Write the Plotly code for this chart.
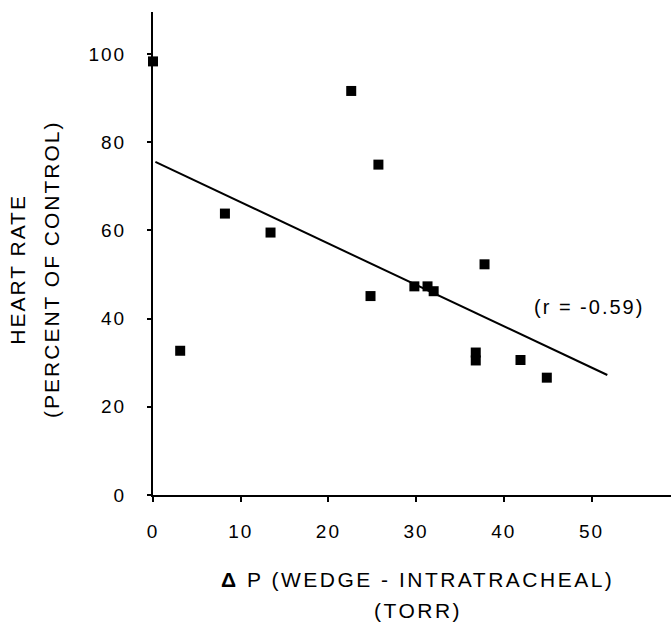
import plotly.graph_objects as go

# Pressure gradient (torr) and heart rate (% of control) per animal
delta_p = [0, 3.1, 8.2, 13.4, 22.6, 25.7, 24.8, 29.8, 31.3, 32.0, 36.8, 36.8, 37.8, 41.9, 44.9]
heart_rate = [98.3, 32.7, 63.8, 59.5, 91.6, 74.9, 45.1, 47.3, 47.3, 46.2, 32.3, 30.5, 52.3, 30.6, 26.6]

# Regression line end points
fit_x = [0.27, 51.8]
fit_y = [75.5, 27.2]

x_ticks = [0, 10, 20, 30, 40, 50]
y_ticks = [0, 20, 40, 60, 80, 100]

FONT = "Liberation Sans, Arial, Helvetica, sans-serif"


def spaced(s, px=2):
    return f'<span style="letter-spacing:{px}px">{s}</span>'


fig = go.Figure()
fig.add_trace(go.Scatter(
    x=fit_x, y=fit_y, mode="lines",
    line=dict(color="black", width=2),
    hoverinfo="skip", cliponaxis=False,
))
fig.add_trace(go.Scatter(
    x=delta_p, y=heart_rate, mode="markers",
    marker=dict(symbol="square", size=10, color="black", line=dict(width=0)),
    cliponaxis=False,
))

fig.update_layout(
    width=671, height=624,
    margin=dict(l=153, r=0, t=12, b=129),
    paper_bgcolor="white", plot_bgcolor="white",
    showlegend=False,
    font=dict(family=FONT, color="black", size=19),
    xaxis=dict(
        range=[0, 59.06], showgrid=False, zeroline=False,
        showline=True, linecolor="black", linewidth=2,
        ticks="outside", ticklen=5, tickwidth=2, tickcolor="black",
        tickvals=x_ticks, ticktext=[spaced(v) for v in x_ticks],
        ticklabelstandoff=13,
    ),
    yaxis=dict(
        range=[0, 109.5], showgrid=False, zeroline=False,
        showline=True, linecolor="black", linewidth=2,
        ticks="outside", ticklen=4, tickwidth=2, tickcolor="black",
        tickvals=y_ticks, ticktext=[spaced(v) for v in y_ticks],
        ticklabelstandoff=17,
    ),
)

annos = [
    dict(text=spaced("(r = -0.59)"), x=49.7, y=42.6, xref="x", yref="y", font=dict(size=20)),
    dict(text=spaced("<b>Δ</b> P (WEDGE - INTRATRACHEAL)", 2.5), x=0.511, y=-0.174, xref="paper", yref="paper", font=dict(size=21)),
    dict(text=spaced("(TORR)", 2.5), x=0.511, y=-0.240, xref="paper", yref="paper", font=dict(size=21)),
    dict(text=spaced("HEART RATE"), x=-0.261, y=0.468, xref="paper", yref="paper", textangle=-90, font=dict(size=21)),
    dict(text=spaced("(PERCENT OF CONTROL)"), x=-0.195, y=0.468, xref="paper", yref="paper", textangle=-90, font=dict(size=21)),
]
for a in annos:
    fig.add_annotation(showarrow=False, xanchor="center", yanchor="middle", **a)

fig.write_html("out.html")
